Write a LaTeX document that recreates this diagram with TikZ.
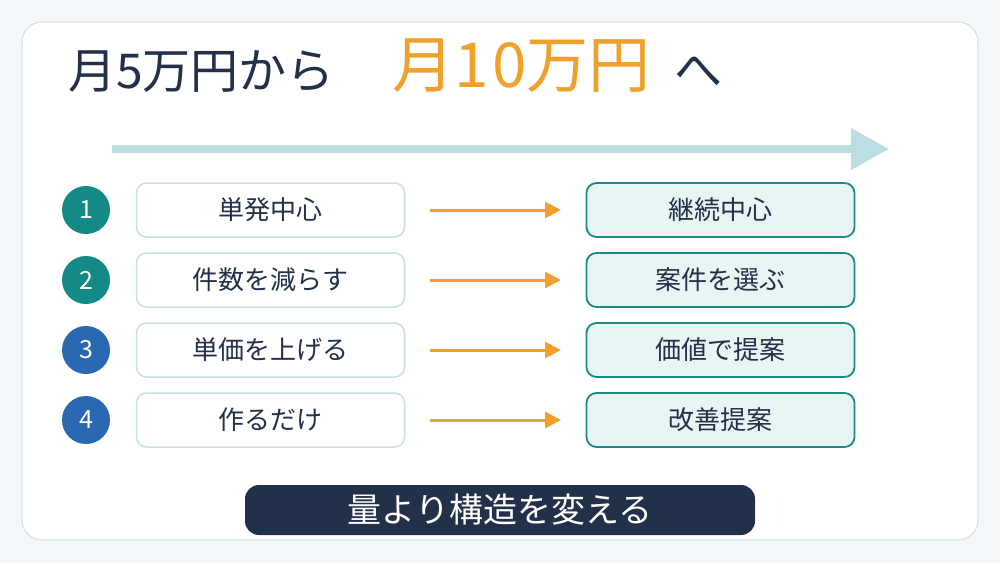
\documentclass[tikz,border=0pt]{standalone}
\usepackage{fontspec}
\setmainfont{Noto Sans CJK JP}
\usetikzlibrary{arrows.meta}
\definecolor{bg}{HTML}{F4F8FA}
\definecolor{cardb}{HTML}{D2E4E8}
\definecolor{navy}{HTML}{22304A}
\definecolor{org}{HTML}{F0A12C}
\definecolor{lblue}{HTML}{BCDDE1}
\definecolor{teal}{HTML}{138A86}
\definecolor{blu}{HTML}{2A68B3}
\definecolor{lbox}{HTML}{C9DFE3}
\definecolor{rfill}{HTML}{E8F5F4}
\definecolor{rbord}{HTML}{1E8A86}
\begin{document}
\begin{tikzpicture}[x=1pt,y=-1pt,
  num/.style={circle,minimum size=48pt,inner sep=0pt,text=white,font=\fontsize{25}{27}\selectfont},
  lbx/.style={draw=lbox,line width=1.5pt,fill=white,rounded corners=10pt,minimum width=268pt,minimum height=54pt,text=navy,font=\fontsize{26}{28}\selectfont},
  rbx/.style={draw=rbord,line width=1.8pt,fill=rfill,rounded corners=10pt,minimum width=268pt,minimum height=54pt,text=navy,font=\fontsize{26}{28}\selectfont},
  oarr/.style={draw=org,line width=3pt,-{Triangle[length=16pt,width=16pt]}}]
\useasboundingbox (0,0) rectangle (1000,563);
\fill[bg] (0,0) rectangle (1000,563);
\draw[cardb,fill=white,line width=1.2pt,rounded corners=20pt] (22,22) rectangle (978,540);
\node[anchor=west,text=navy,font=\fontsize{48}{52}\selectfont,inner sep=0pt] (t1) at (68,72) {月5万円から};
\node[anchor=west,text=org,font=\fontsize{62}{66}\selectfont,inner sep=0pt] (t2) at (392,66) {月1\kern4pt0万円};
\node[anchor=west,text=navy,font=\fontsize{48}{52}\selectfont,inner sep=0pt] (t3) at (674,72) {へ};
\coordinate (a0) at (112,149);
\coordinate (a1) at (889,149);
\draw[lblue,line width=8pt,-{Triangle[length=38pt,width=40pt]}] (a0) -- (a1);
\foreach \i/\y/\c/\l/\r in {1/210/teal/単発中心/継続中心,2/280/teal/件数を減らす/案件を選ぶ,3/350/blu/単価を上げる/価値で提案,4/420/blu/作るだけ/改善提案}{
  \node[num,fill=\c] (n\i) at (86,\y) {\i};
  \node[lbx] (L\i) at (270.5,\y) {\l};
  \node[rbx] (R\i) at (720.5,\y) {\r};
  \coordinate (s\i) at (430,\y);
  \coordinate (e\i) at (561,\y);
  \draw[oarr] (s\i) -- (e\i);
}
\node[fill=navy,rounded corners=14pt,minimum width=510pt,minimum height=50pt,text=white,font=\fontsize{34}{38}\selectfont] (b) at (500,510) {量より構造を変える};
\end{tikzpicture}
\end{document}
